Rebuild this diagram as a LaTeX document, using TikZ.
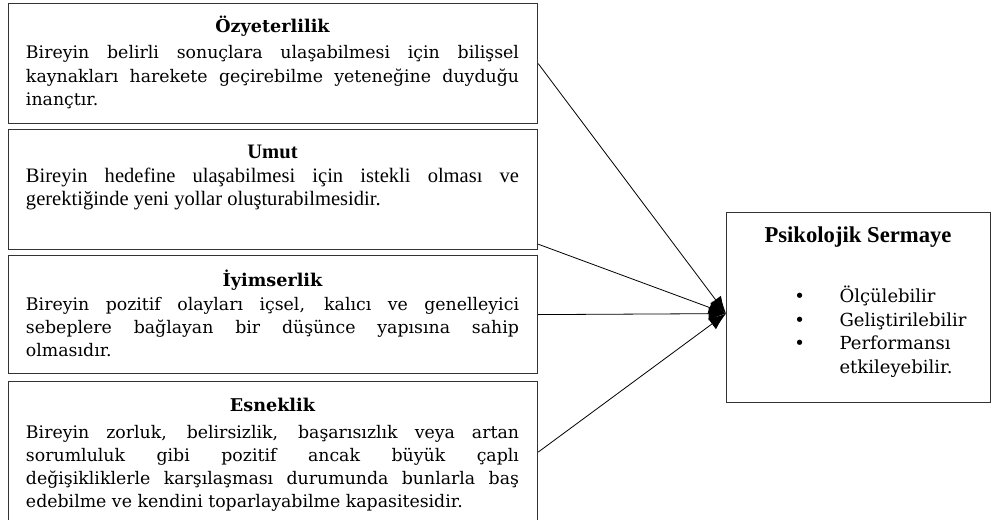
\documentclass[tikz,border=0pt]{standalone}
\usepackage{fontspec}
\usetikzlibrary{arrows.meta}
\setmainfont{DejaVu Serif}
\newfontfamily\timesyazi{Liberation Serif}
\tikzset{
  kutu/.style={draw=black!80, line width=0.9pt, anchor=north west, minimum width=396.75pt, inner sep=0pt},
  baslik/.style={anchor=base, inner sep=0pt, font=\fontsize{13.2pt}{17.4pt}\selectfont\bfseries},
  metin/.style={anchor=north, inner sep=0pt, text width=369.75pt, align=justify, font=\fontsize{13pt}{17.4pt}\selectfont},
  ok/.style={-{Latex[length=13pt,width=10pt]}, line width=0.6pt}
}
\begin{document}
\begin{tikzpicture}[x=0.75pt,y=0.75pt]
\useasboundingbox (0,0) rectangle (991,519);
\node[kutu, minimum height=90pt] (oz) at (8,516) {};
\node[kutu, minimum height=90pt] (umut) at (8,390) {};
\node[kutu, minimum height=88.5pt] (iyim) at (8,264) {};
\node[kutu, minimum height=105.75pt] (esn) at (8,138) {};
\node[kutu, minimum width=198pt, minimum height=142.5pt] (ps) at (726,307) {};

\node[baslik] (oz-b) at (272.5,486) {Özyeterlilik};
\node[metin] (oz-m) at (272.5,476.7) {\strut Bireyin belirli sonuçlara ulaşabilmesi için bilişsel\linebreak kaynakları harekete geçirebilme yeteneğine duyduğu\linebreak inançtır.};

\node[baslik, font=\timesyazi\fontsize{15.4pt}{17.4pt}\selectfont\bfseries] (umut-b) at (272.5,361) {Umut};
\node[metin, font=\timesyazi\fontsize{15.4pt}{17.4pt}\selectfont] (umut-m) at (272.5,353.2) {\strut Bireyin hedefine ulaşabilmesi için istekli olması ve\linebreak gerektiğinde yeni yollar oluşturabilmesidir.};

\node[baslik] (iyim-b) at (272.5,233) {İyimserlik};
\node[metin] (iyim-m) at (272.5,225.2) {\strut Bireyin pozitif olayları içsel, kalıcı ve genelleyici\linebreak sebeplere bağlayan bir düşünce yapısına sahip\linebreak olmasıdır.};

\node[baslik] (esn-b) at (272.5,108) {Esneklik};
\node[metin] (esn-m) at (272.5,97.5) {\strut Bireyin zorluk, belirsizlik, başarısızlık veya artan\linebreak sorumluluk gibi pozitif ancak büyük çaplı\linebreak değişikliklerle karşılaşması durumunda bunlarla baş\linebreak edebilme ve kendini toparlayabilme kapasitesidir.};

\node[baslik, font=\timesyazi\fontsize{17pt}{17.4pt}\selectfont\bfseries] (ps-b) at (858,277) {Psikolojik Sermaye};
\node[anchor=north west, inner sep=0pt, align=left, font=\fontsize{13.5pt}{17.6pt}\selectfont] (ps-l) at (794,233) {\strut\textbullet\hspace{26pt}Ölçülebilir\\ \textbullet\hspace{26pt}Geliştirilebilir\\ \textbullet\hspace{26pt}Performansı\\ \hphantom{\textbullet}\hspace{26pt}etkileyebilir.};

\coordinate (uc) at ([yshift=-4.5pt]ps.west);
\draw[ok] (oz.east) -- (uc);
\draw[ok] ([yshift=4.5pt]umut.south east) -- (uc);
\draw[ok] (iyim.east) -- (uc);
\draw[ok] (esn.east) -- (uc);
\end{tikzpicture}
\end{document}
